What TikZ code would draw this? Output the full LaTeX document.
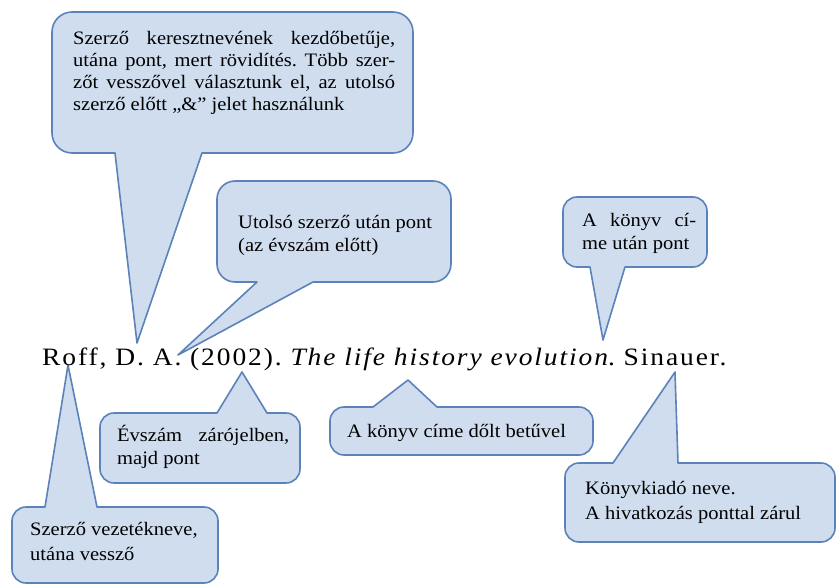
\documentclass[tikz,border=0pt]{standalone}
\usepackage{fontspec}
\setmainfont{Liberation Serif}
\newfontfamily\calfont[FakeStretch=1.08]{Liberation Serif}
\newfontfamily\reffont[FakeStretch=1.1,LetterSpace=7.6]{Liberation Serif}
\definecolor{cfill}{RGB}{207,221,238}
\definecolor{cline}{RGB}{92,130,186}
\newcommand{\jline}[2]{\makebox[#1][s]{#2}}
\frenchspacing
\begin{document}
\begin{tikzpicture}[x=1pt,y=-1pt,
  bubble/.style={fill=cfill,draw=cline,line width=1.6pt,line join=round},
  ctext/.style={anchor=base west,inner sep=0pt,font=\calfont\fontsize{19}{23}\selectfont}]
\useasboundingbox (0,0) rectangle (836,584);

% pointer tips
\coordinate (t1) at (137,343);
\coordinate (t2) at (178,355);
\coordinate (t3) at (603,340);
\coordinate (t4) at (242,372);
\coordinate (t5) at (68,365);
\coordinate (t6) at (408,380);
\coordinate (t7) at (675,372);

% callouts with pointer at the bottom
\draw[bubble] (t1) [sharp corners] -- (202,153) [rounded corners=20pt] -- (413,153) -- (413,12) -- (52,12) -- (52,153) [sharp corners] -- (115,153) -- cycle;
\draw[bubble] (t2) [sharp corners] -- (313,282) [rounded corners=18pt] -- (451,282) -- (451,181) -- (217,181) -- (217,282) [sharp corners] -- (257,282) -- cycle;
\draw[bubble] (t3) [sharp corners] -- (625,267) [rounded corners=14pt] -- (707,267) -- (707,197) -- (563,197) -- (563,267) [sharp corners] -- (590,267) -- cycle;

% callouts with pointer at the top
\draw[bubble] (t4) [sharp corners] -- (217,413) [rounded corners=14pt] -- (100,413) -- (100,483) -- (300,483) -- (300,413) [sharp corners] -- (267,413) -- cycle;
\draw[bubble] (t5) [sharp corners] -- (45,507) [rounded corners=14pt] -- (12,507) -- (12,583) -- (218,583) -- (218,507) [sharp corners] -- (97,507) -- cycle;
\draw[bubble] (t6) [sharp corners] -- (373,407) [rounded corners=14pt] -- (330,407) -- (330,455) -- (593,455) -- (593,407) [sharp corners] -- (437,407) -- cycle;
\draw[bubble] (t7) [sharp corners] -- (613,463) [rounded corners=14pt] -- (565,463) -- (565,542) -- (835,542) -- (835,463) [sharp corners] -- (678,463) -- cycle;

% texts
\node[ctext] (c1) at (73,44) {\parbox[t]{330pt}{\baselineskip=22pt
 \jline{322pt}{Szerző keresztnevének kezdőbetűje,}\\
 \jline{322pt}{utána pont, mert rövidítés. Több szer-}\\
 \jline{322pt}{zőt vesszővel választunk el, az utolsó}\\
 szerző előtt „\&” jelet használunk}};
\node[ctext] (c2) at (238,228) {\parbox[t]{200pt}{\baselineskip=23pt
 \jline{194pt}{Utolsó szerző után pont}\\
 (az évszám előtt)}};
\node[ctext] (c3) at (582,226) {\parbox[t]{120pt}{\baselineskip=23pt
 \jline{114pt}{A könyv cí-}\\
 me után pont}};
\node[ctext] (c4) at (117,441) {\parbox[t]{180pt}{\baselineskip=23pt
 \jline{172pt}{Évszám zárójelben,}\\
 majd pont}};
\node[ctext] (c5) at (30,535) {\parbox[t]{185pt}{\baselineskip=25pt
 Szerző vezetékneve,\\
 utána vessző}};
\node[ctext] (c6) at (347,437) {A könyv címe dőlt betűvel};
\node[ctext] (c7) at (585,494) {\parbox[t]{250pt}{\baselineskip=25pt
 Könyvkiadó neve.\\
 A hivatkozás ponttal zárul}};

% the reference line
\node[anchor=base west,inner sep=0pt,font=\reffont\fontsize{25}{30}\selectfont] (ref) at (42,365)
 {Roff, D. A. (2002). \textit{The life history evolution}. Sinauer.};
\end{tikzpicture}
\end{document}
